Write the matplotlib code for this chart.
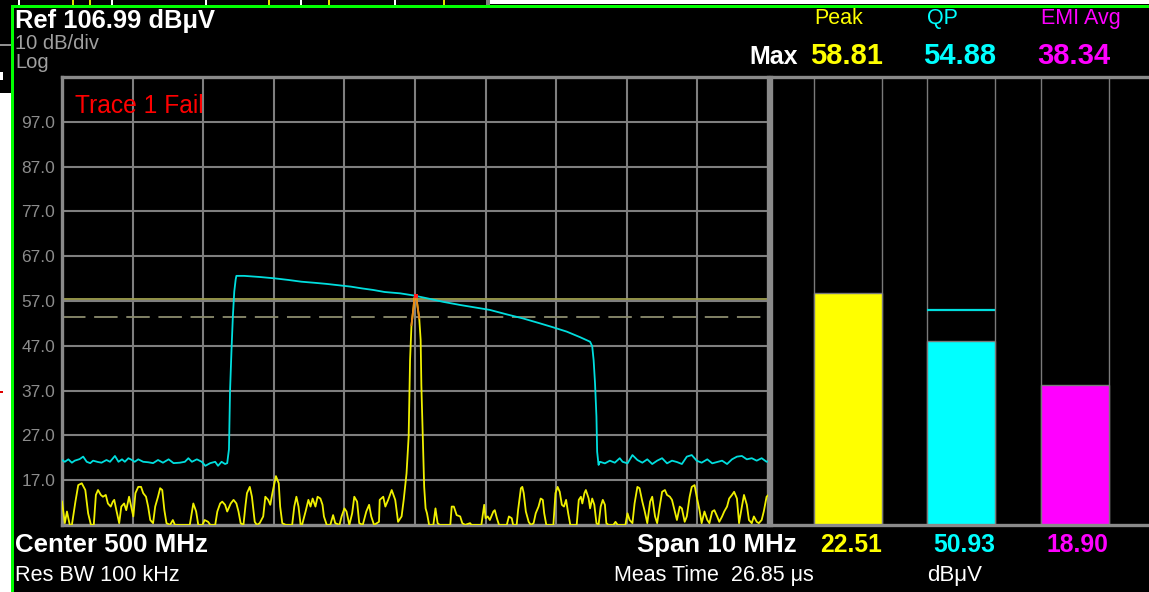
import matplotlib.pyplot as plt
from matplotlib.patches import Rectangle
from matplotlib.transforms import blended_transform_factory

plt.rcParams['font.family'] = ['Liberation Sans', 'DejaVu Sans']

# analyzer settings
ref_level = 106.99
db_per_div = 10
center_mhz = 500
span_mhz = 10
limit_db = 57.4     # limit line
margin_db = 53.4    # margin line (dashed)

# trace 1, peak detector: (MHz, dBuV)
peak_trace = [
    (495.00, 12.2), (495.04, 7.4), (495.07, 10.0), (495.11, 7.0), (495.14, 7.0),
    (495.19, 12.2), (495.23, 15.9), (495.28, 16.3), (495.33, 14.8), (495.37, 9.6),
    (495.41, 7.0), (495.45, 7.0), (495.48, 13.7), (495.51, 14.8), (495.55, 13.7),
    (495.58, 13.3), (495.62, 13.7), (495.65, 11.8), (495.69, 11.1), (495.72, 12.2),
    (495.74, 12.6), (495.77, 10.3), (495.81, 7.4), (495.84, 11.1), (495.88, 11.8),
    (495.91, 10.3), (495.95, 13.3), (495.98, 11.1), (496.01, 8.9), (496.04, 14.1),
    (496.08, 15.5), (496.12, 15.5), (496.15, 14.1), (496.19, 13.3), (496.22, 11.1),
    (496.25, 8.1), (496.29, 7.4), (496.32, 11.1), (496.36, 13.3), (496.39, 15.2),
    (496.42, 14.8), (496.45, 10.3), (496.48, 7.4), (496.53, 7.0), (496.57, 8.1),
    (496.60, 7.0), (496.81, 7.0), (496.86, 11.8), (496.90, 10.0), (496.93, 7.0),
    (496.99, 7.0), (497.02, 8.1), (497.07, 7.7), (497.10, 7.0), (497.17, 7.0),
    (497.20, 10.0), (497.24, 11.8), (497.27, 12.2), (497.31, 11.5), (497.34, 10.0),
    (497.39, 11.8), (497.43, 12.6), (497.47, 11.8), (497.50, 10.0), (497.53, 7.4),
    (497.57, 7.0), (497.60, 11.5), (497.62, 14.1), (497.66, 15.5), (497.69, 13.3),
    (497.73, 7.7), (497.76, 7.0), (497.80, 7.4), (497.85, 8.9), (497.88, 13.3),
    (497.92, 12.6), (497.95, 11.5), (497.98, 14.1), (498.03, 17.9), (498.07, 16.3),
    (498.09, 11.1), (498.12, 7.4), (498.17, 7.0), (498.26, 7.0), (498.29, 11.1),
    (498.32, 13.3), (498.35, 11.1), (498.38, 7.0), (498.40, 7.0), (498.45, 10.0),
    (498.49, 12.6), (498.52, 11.1), (498.55, 12.9), (498.59, 11.1), (498.62, 13.3),
    (498.66, 12.9), (498.69, 11.5), (498.71, 8.9), (498.75, 7.0), (498.80, 7.0),
    (498.84, 9.2), (498.87, 7.4), (498.93, 7.0), (498.96, 8.9), (499.00, 10.7),
    (499.03, 10.0), (499.07, 7.0), (499.11, 9.6), (499.14, 13.3), (499.18, 12.2),
    (499.21, 7.4), (499.26, 7.0), (499.31, 10.0), (499.35, 11.5), (499.38, 8.9),
    (499.42, 7.0), (499.49, 7.7), (499.50, 12.6), (499.55, 13.3), (499.58, 11.1),
    (499.62, 12.6), (499.67, 14.8), (499.72, 12.6), (499.76, 7.7), (499.81, 8.9),
    (499.84, 12.6), (499.88, 18.5), (499.91, 26.7), (499.93, 43.8), (499.95, 51.6),
    (499.98, 55.7), (499.99, 57.6), (500.01, 58.2), (500.03, 56.5), (500.06, 53.1),
    (500.08, 48.3), (500.09, 38.2), (500.11, 26.7), (500.13, 15.5), (500.15, 10.7),
    (500.17, 9.6), (500.20, 7.0), (500.26, 7.0), (500.29, 10.7), (500.32, 7.4),
    (500.35, 7.0), (500.50, 7.0), (500.52, 11.1), (500.55, 11.1), (500.59, 9.2),
    (500.64, 8.9), (500.67, 7.4), (500.71, 7.0), (500.78, 7.4), (500.80, 7.0),
    (500.94, 7.0), (500.98, 11.5), (501.00, 8.5), (501.03, 8.9), (501.06, 8.1),
    (501.11, 10.0), (501.13, 10.3), (501.16, 8.5), (501.19, 7.0), (501.30, 7.0),
    (501.33, 8.9), (501.37, 8.5), (501.39, 7.0), (501.44, 7.0), (501.46, 10.3),
    (501.50, 15.2), (501.52, 15.5), (501.54, 14.1), (501.57, 10.0), (501.61, 7.7),
    (501.64, 7.0), (501.68, 7.4), (501.71, 9.6), (501.75, 11.1), (501.78, 12.9),
    (501.81, 12.6), (501.83, 9.6), (501.86, 7.0), (501.96, 7.0), (501.99, 14.1),
    (502.02, 15.5), (502.05, 14.4), (502.08, 11.5), (502.11, 11.1), (502.14, 12.6),
    (502.17, 9.6), (502.20, 7.0), (502.29, 7.0), (502.32, 12.6), (502.35, 13.3),
    (502.37, 11.8), (502.40, 14.1), (502.42, 14.8), (502.46, 12.9), (502.48, 10.7),
    (502.51, 12.9), (502.54, 11.5), (502.57, 7.4), (502.60, 7.0), (502.63, 11.1),
    (502.66, 12.6), (502.69, 11.5), (502.71, 7.4), (502.74, 7.0), (502.81, 7.0),
    (502.84, 7.7), (502.87, 7.0), (502.98, 7.0), (503.01, 9.6), (503.04, 8.1),
    (503.08, 7.4), (503.11, 11.8), (503.15, 15.5), (503.18, 15.2), (503.22, 12.2),
    (503.25, 10.3), (503.29, 7.4), (503.33, 12.2), (503.36, 13.3), (503.40, 8.9),
    (503.43, 7.4), (503.47, 11.5), (503.50, 14.4), (503.54, 14.8), (503.57, 13.7),
    (503.61, 13.3), (503.64, 12.6), (503.68, 10.0), (503.71, 8.1), (503.75, 11.1),
    (503.78, 10.7), (503.82, 7.7), (503.85, 8.9), (503.89, 13.3), (503.92, 15.5),
    (503.96, 15.9), (503.99, 13.3), (504.03, 10.3), (504.06, 7.4), (504.10, 10.0),
    (504.14, 8.1), (504.17, 7.4), (504.21, 10.0), (504.24, 10.3), (504.28, 8.9),
    (504.31, 7.7), (504.35, 8.9), (504.38, 10.0), (504.42, 11.1), (504.45, 12.9),
    (504.49, 13.7), (504.52, 14.4), (504.56, 12.9), (504.59, 7.4), (504.63, 11.1),
    (504.66, 13.7), (504.70, 11.5), (504.73, 8.1), (504.77, 7.4), (504.80, 8.9),
    (504.84, 7.7), (504.87, 7.4), (504.91, 8.1), (504.94, 10.0), (504.98, 13.3),
    (505.00, 13.6),
]

# trace 2, quasi-peak detector: (MHz, dBuV)
qp_trace = [
    (495.00, 21.5), (495.04, 21.1), (495.09, 21.65), (495.14, 20.9), (495.18, 21.35),
    (495.25, 21.7), (495.30, 22.25), (495.35, 21.1), (495.40, 20.8), (495.44, 21.35),
    (495.51, 21.05), (495.56, 20.9), (495.63, 21.5), (495.68, 21.1), (495.75, 22.4),
    (495.80, 21.1), (495.85, 21.65), (495.89, 21.1), (495.94, 21.9), (495.99, 21.5),
    (496.03, 21.1), (496.08, 21.65), (496.15, 21.1), (496.22, 21.0), (496.29, 20.8),
    (496.36, 21.5), (496.43, 20.9), (496.51, 21.65), (496.58, 20.8), (496.67, 20.9),
    (496.74, 21.1), (496.79, 21.9), (496.84, 21.1), (496.91, 21.65), (496.98, 21.1),
    (497.03, 20.2), (497.10, 20.8), (497.17, 21.1), (497.21, 20.2), (497.26, 21.1),
    (497.31, 20.6), (497.34, 20.8), (497.365, 23.9), (497.38, 36.8), (497.40, 45.7),
    (497.42, 53.5), (497.44, 59.1), (497.46, 61.8), (497.47, 62.6), (497.58, 62.6),
    (497.80, 62.35), (498.01, 62.05), (498.20, 61.7), (498.39, 61.3), (498.58, 61.05),
    (498.75, 60.8), (498.92, 60.5), (499.09, 60.2), (499.25, 59.8), (499.41, 59.45),
    (499.57, 59.0), (499.79, 58.7), (499.97, 58.25), (500.17, 57.6), (500.40, 56.8),
    (500.64, 56.1), (500.87, 55.5), (501.06, 55.0), (501.30, 54.0), (501.53, 53.1),
    (501.77, 52.0), (501.96, 51.1), (502.15, 50.15), (502.34, 48.9), (502.48, 47.9),
    (502.51, 46.9), (502.53, 43.8), (502.55, 38.6), (502.57, 31.2), (502.58, 23.35),
    (502.60, 20.4), (502.62, 21.1), (502.69, 20.75), (502.76, 21.35), (502.83, 20.9),
    (502.90, 21.9), (502.94, 21.1), (503.01, 20.75), (503.08, 22.6), (503.15, 21.5),
    (503.22, 20.9), (503.29, 21.65), (503.36, 20.6), (503.43, 21.35), (503.50, 21.9),
    (503.57, 20.75), (503.64, 21.35), (503.71, 21.05), (503.78, 20.6), (503.85, 22.25),
    (503.92, 22.6), (503.99, 21.35), (504.06, 20.9), (504.14, 21.65), (504.21, 20.75),
    (504.28, 21.05), (504.35, 21.35), (504.42, 20.6), (504.49, 21.65), (504.56, 22.25),
    (504.63, 22.4), (504.70, 21.65), (504.77, 21.9), (504.84, 21.35), (504.91, 21.9),
    (504.98, 21.1), (505.00, 21.2),
]

# meter panel
meter_names = ['Peak', 'QP', 'EMI Avg']
meter_colors = ['#ffff00', '#00ffff', '#ff00ff']
meter_max = [58.81, 54.88, 38.34]
meter_now = [22.51, 50.93, 18.90]
meter_bar = [58.81, 48.0, 38.34]

W, H = 1149, 592
y_bot = ref_level - 10 * db_per_div
f_lo = center_mhz - span_mhz / 2
f_hi = center_mhz + span_mhz / 2


def px_rect(x0, y0, x1, y1):
    return [x0 / W, 1 - y1 / H, (x1 - x0) / W, (y1 - y0) / H]


fig = plt.figure(figsize=(W / 100, H / 100), dpi=100, facecolor='white')

# screen background in pixel units
bg = fig.add_axes([0, 0, 1, 1])
bg.set_xlim(0, W)
bg.set_ylim(H, 0)
bg.axis('off')
bg.add_patch(Rectangle((11, 4), W, H, color='black', lw=0))
bg.add_patch(Rectangle((0, 0), 11, 93, color='black', lw=0))
bg.add_patch(Rectangle((0, 0), 490, 4.5, color='black', lw=0))
for x in [18, 111, 205, 300, 394]:
    bg.add_patch(Rectangle((x, 0), 1.5, 4.5, color='white', lw=0))
for x in [72, 89, 268, 328, 443]:
    bg.add_patch(Rectangle((x, 0), 1.5, 4.5, color='#e0e000', lw=0))
bg.add_patch(Rectangle((486, 0), 4, 4.5, color='#808080', lw=0))
bg.add_patch(Rectangle((0, 44), 11, 2, color='#909090', lw=0))
bg.add_patch(Rectangle((0, 72), 3, 8, color='white', lw=0))
bg.add_patch(Rectangle((0, 391), 3, 2, color='#e00000', lw=0))
# green window frame
bg.add_patch(Rectangle((11, 4.5), W, 3.5, color='#00ff00', lw=0))
bg.add_patch(Rectangle((11, 4.5), 2.5, H, color='#00ff00', lw=0))

# spectrum graticule
ax = fig.add_axes(px_rect(62, 77, 768, 525), facecolor='black')
ax.set_xlim(f_lo, f_hi)
ax.set_ylim(y_bot, ref_level)
grid_levels = [y_bot + db_per_div * k for k in range(1, 10)]
ax.set_yticks(grid_levels)
ax.set_yticklabels([f'{v:.1f}' for v in grid_levels])
ax.set_xticks([f_lo + k * span_mhz / 10 for k in range(1, 10)])
ax.tick_params(axis='y', length=0, pad=5, labelcolor='#8c8c8c', labelsize=12.5)
ax.tick_params(axis='x', length=0, labelbottom=False)
ax.grid(True, color='#7f7f7f', lw=1.5)
for s in ax.spines.values():
    s.set_color('#8a8a8a')
    s.set_linewidth(2.4)

ax.axhline(limit_db, color='#a0a050', lw=1.3, zorder=2)
ax.axhline(margin_db, color='#8c8c6e', lw=1.3, dashes=(13, 4.8), zorder=2)

pf = [p[0] for p in peak_trace]
pl = [p[1] for p in peak_trace]
qf = [p[0] for p in qp_trace]
ql = [p[1] for p in qp_trace]
ax.plot(pf, pl, color='#f0f000', lw=1.3, zorder=3)
ax.plot(qf, ql, color='#00dede', lw=1.3, zorder=4)

# failing part of trace 1
fail = [p for p in peak_trace if p[1] > 50]
ax.plot([p[0] for p in fail], [p[1] for p in fail], color='#e8841c', lw=1.3, zorder=5)
top = max(peak_trace, key=lambda p: p[1])
ax.plot(top[0], top[1], 's', color='#ff2020', ms=2.5, mew=0, zorder=6)

# detector meter panel
pax = fig.add_axes(px_rect(771, 77, 1170, 525), facecolor='black')
pax.set_xlim(-0.679, 2.84)
pax.set_ylim(y_bot, ref_level)
pax.set_xticks([])
pax.set_yticks([])
for name, s in pax.spines.items():
    s.set_color('#8a8a8a')
    s.set_linewidth(2.4)
pax.spines['right'].set_visible(False)
xs = range(len(meter_names))
pax.bar(xs, ref_level - y_bot, bottom=y_bot, width=0.6, fill=False,
        edgecolor='#7a7a7a', lw=1)
pax.bar(xs, [v - y_bot for v in meter_bar], bottom=y_bot, width=0.6,
        color=meter_colors, edgecolor='#7a7a7a', lw=1)
pax.hlines(meter_max[1], 1 - 0.3, 1 + 0.3, color='#00dede', lw=1.6)

# text layer
txt = fig.add_axes([0, 0, 1, 1], zorder=10)
txt.set_xlim(0, W)
txt.set_ylim(H, 0)
txt.axis('off')

txt.text(15, 28, 'Ref 106.99 dBμV', color='white', fontsize=18.4, fontweight='bold')
txt.text(15, 49, '10 dB/div', color='#a0a0a0', fontsize=14.5)
txt.text(15, 68, 'Log', color='#a0a0a0', fontsize=14.5)
txt.text(75, 113, 'Trace 1 Fail', color='#ff0000', fontsize=17.7)
txt.text(798, 64, 'Max', color='white', fontsize=18, fontweight='bold', ha='right')

txt.text(15, 552, 'Center 500 MHz', color='white', fontsize=18.6, fontweight='bold')
txt.text(15, 581, 'Res BW 100 kHz', color='white', fontsize=15.6)
txt.text(797, 552, 'Span 10 MHz', color='white', fontsize=18.6, fontweight='bold', ha='right')
txt.text(614, 581, 'Meas Time  26.85 μs', color='white', fontsize=15.5)

mt = blended_transform_factory(pax.transData, txt.transData)
for i, name in enumerate(meter_names):
    c = meter_colors[i]
    txt.text(i - 0.3, 24, name, color=c, fontsize=15.5, transform=mt)
    txt.text(i + 0.31, 64, f'{meter_max[i]:.2f}', color=c, fontsize=21,
             fontweight='bold', ha='right', transform=mt)
    txt.text(i + 0.3, 552, f'{meter_now[i]:.2f}', color=c, fontsize=17.8,
             fontweight='bold', ha='right', transform=mt)
txt.text(1 - 0.3, 581, 'dBμV', color='white', fontsize=16, transform=mt)

fig.savefig('out.png', dpi=100, facecolor='white')
